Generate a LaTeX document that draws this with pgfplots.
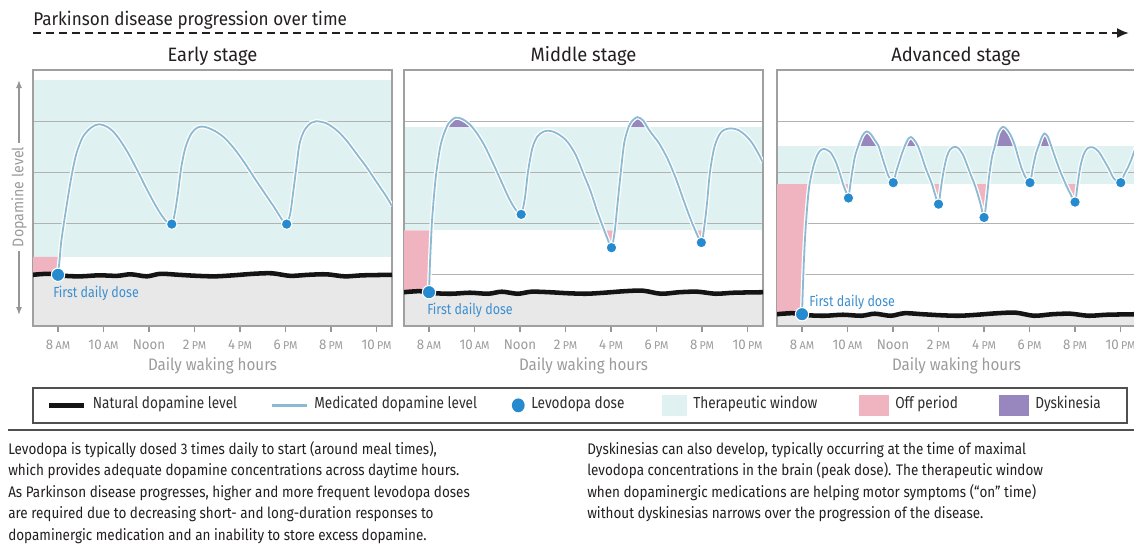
\documentclass[border=0pt]{standalone}
\usepackage{fontspec}
\setmainfont{Fira Sans}[FakeStretch=0.85]
\newfontfamily\fA{Fira Sans}[FakeStretch=0.93]
\newfontfamily\fB{Fira Sans}[FakeStretch=0.95]
\newfontfamily\fC{Fira Sans}[FakeStretch=0.91]
\newfontfamily\fD{Fira Sans}[FakeStretch=0.92]
\newfontfamily\fE{Fira Sans}[FakeStretch=0.88]
\usepackage{pgfplots}
\usepackage{pgfplotstable}
\pgfplotsset{compat=1.18}
\usetikzlibrary{arrows.meta}

\definecolor{wincol}{RGB}{224,241,242}
\definecolor{offcol}{RGB}{240,180,193}
\definecolor{dyscol}{RGB}{152,134,190}
\definecolor{medcol}{RGB}{140,186,210}
\definecolor{dosecol}{RGB}{38,139,206}
\definecolor{dosetext}{RGB}{60,143,207}
\definecolor{natgray}{RGB}{232,232,232}
\definecolor{boxgray}{RGB}{160,160,160}
\definecolor{gridgray}{RGB}{178,178,178}
\definecolor{tickgray}{RGB}{150,150,150}
\definecolor{ticktext}{RGB}{155,155,155}
\definecolor{darktext}{RGB}{35,31,32}
\definecolor{legborder}{RGB}{80,80,80}
\definecolor{legtext}{RGB}{45,45,45}

\newcommand{\fs}[1]{\fontsize{#1}{#1}\selectfont}
\newcommand{\tk}[2]{#1\,{\fs{8.5}#2}}

% ---------- data ----------
\pgfplotstableread{
x y
6.9 1.0
7.6 1.02
8.3 0.98
9.0 0.97
9.8 0.99
10.6 0.98
11.2 1.01
11.9 0.97
12.5 1.02
13.3 1.0
14.1 0.98
14.9 0.97
15.7 0.99
16.6 1.02
17.4 1.03
18.2 0.98
19.0 1.0
19.8 1.01
20.6 0.97
21.4 0.99
22.68 1.0
}\natA
\pgfplotstableread{
x y
8 1.0
8.07 1.3
8.15 1.68
8.37 2.33
8.59 2.92
8.81 3.37
9.10 3.70
9.47 3.88
9.80 3.94
10.20 3.88
10.56 3.73
11.0 3.44
11.44 3.08
11.88 2.69
12.32 2.33
12.69 2.08
13.0 1.99
13.13 2.20
13.27 2.59
13.42 3.11
13.61 3.50
13.86 3.76
14.15 3.88
14.45 3.89
14.89 3.81
15.33 3.67
15.77 3.45
16.21 3.18
16.65 2.88
17.09 2.59
17.53 2.30
17.86 2.07
18.05 1.99
18.21 2.20
18.33 2.59
18.48 3.11
18.62 3.57
18.84 3.83
19.13 3.97
19.35 4.0
19.79 3.96
20.23 3.83
20.67 3.63
21.11 3.37
21.55 3.11
21.99 2.82
22.43 2.53
22.68 2.34
}\medA
\pgfplotstableread{
x y
6.9 0.66
7.6 0.68
8.3 0.64
9.0 0.63
9.8 0.65
10.6 0.63
11.2 0.67
11.9 0.63
12.5 0.67
13.3 0.66
14.1 0.64
14.9 0.63
15.7 0.65
16.6 0.68
17.4 0.69
18.2 0.63
19.0 0.66
19.8 0.67
20.6 0.63
21.4 0.65
22.68 0.66
}\natB
\pgfplotstableread{
x y
8 0.66
8.04 1.2
8.1 1.8
8.15 2.17
8.29 2.88
8.48 3.47
8.66 3.76
8.88 3.97
9.17 4.07
9.47 4.04
9.76 3.95
10.05 3.80
10.42 3.54
10.78 3.21
11.15 2.85
11.52 2.49
11.81 2.27
12.05 2.18
12.21 2.49
12.35 3.01
12.54 3.47
12.76 3.70
13.05 3.80
13.35 3.81
13.71 3.74
14.08 3.60
14.45 3.34
14.81 2.95
15.11 2.62
15.40 2.23
15.69 1.88
15.84 1.71
16.02 1.53
16.16 1.84
16.28 2.36
16.43 3.01
16.57 3.55
16.72 3.82
16.88 3.98
17.16 4.08
17.42 4.01
17.6 3.88
17.8 3.75
18.11 3.57
18.48 3.27
18.85 2.88
19.21 2.43
19.51 2.07
19.73 1.84
19.97 1.63
20.09 1.91
20.21 2.36
20.35 3.01
20.53 3.47
20.75 3.73
20.97 3.83
21.26 3.86
21.58 3.83
21.92 3.72
22.21 3.57
22.51 3.34
22.68 3.19
}\medB
\pgfplotstableread{
x y
6.9 0.23
7.6 0.25
8.3 0.21
9.0 0.20
9.8 0.22
10.6 0.20
11.2 0.24
11.9 0.20
12.5 0.25
13.3 0.23
14.1 0.21
14.9 0.20
15.7 0.22
16.6 0.25
17.4 0.26
18.2 0.20
19.0 0.23
19.8 0.24
20.6 0.20
21.4 0.22
22.68 0.23
}\natC
\pgfplotstableread{
x y
8 0.23
8.06 1.03
8.12 1.62
8.18 2.05
8.25 2.45
8.33 2.77
8.5 3.12
8.65 3.32
8.79 3.42
8.97 3.46
9.23 3.40
9.45 3.24
9.64 3.01
9.82 2.75
9.96 2.59
10.04 2.50
10.11 2.72
10.22 3.05
10.33 3.32
10.5 3.55
10.67 3.73
10.84 3.80
11.02 3.75
11.2 3.63
11.36 3.52
11.5 3.33
11.65 3.12
11.8 2.93
12.01 2.80
12.13 3.0
12.27 3.2
12.4 3.38
12.53 3.53
12.66 3.65
12.79 3.69
12.92 3.64
13.09 3.52
13.25 3.33
13.42 3.10
13.58 2.92
13.72 2.76
13.86 2.55
14.0 2.38
14.1 2.68
14.22 3.02
14.36 3.30
14.51 3.45
14.72 3.50
14.9 3.46
15.09 3.33
15.25 3.15
15.42 2.95
15.58 2.77
15.72 2.58
15.86 2.36
16.0 2.12
16.12 2.49
16.23 2.95
16.35 3.3
16.48 3.52
16.63 3.78
16.82 3.89
17.0 3.84
17.18 3.72
17.36 3.52
17.5 3.3
17.66 3.07
17.83 2.9
18.02 2.80
18.15 3.1
18.29 3.38
18.42 3.54
18.52 3.67
18.65 3.76
18.8 3.70
18.95 3.52
19.12 3.3
19.34 3.03
19.6 2.76
19.81 2.57
20.0 2.42
20.1 2.72
20.22 3.08
20.37 3.34
20.54 3.47
20.78 3.49
21.03 3.41
21.27 3.24
21.51 3.05
21.71 2.88
22.01 2.80
22.15 2.95
22.34 3.11
22.49 3.27
22.59 3.40
22.68 3.50
}\medC

\pgfplotsset{
  panel/.style={
    set layers, scale only axis, width=269.25pt, height=192pt,
    anchor=south west,
    xmin=6.9, xmax=22.68, ymin=0, ymax=5,
    axis line style={draw=boxgray, line width=1.5pt},
    xtick={8,10,12,14,16,18,20,22},
    xticklabels={{\tk{8}{AM}},{\tk{10}{AM}},{Noon},{\tk{2}{PM}},{\tk{4}{PM}},{\tk{6}{PM}},{\tk{8}{PM}},{\tk{10}{PM}}},
    xtick pos=bottom, tick align=outside, major tick length=4.5pt,
    xtick style={draw=tickgray, line width=0.9pt},
    xticklabel style={font=\fB\fs{10.5}, text=ticktext, anchor=base, yshift=-13.3pt},
    ytick={1,2,3,4}, yticklabels={}, ytick style={draw=none},
    ymajorgrids, grid style={draw=gridgray, line width=0.7pt},
    xlabel={Daily waking hours},
    xlabel style={font=\fC\fs{12.5}, text=ticktext, at={(axis description cs:0.5,0)}, anchor=center, yshift=-29.8pt},
    clip=true,
  },
  bg/.style={draw=none, on layer=axis background},
  band/.style={draw=none, on layer=pre main},
  medline/.style={smooth, medcol, line width=1.35pt, preaction={draw=white, line width=3.2pt}},
  natline/.style={smooth, black!92, line width=3.4pt},
  dose/.style={only marks, mark=*, mark size=4pt, mark options={fill=dosecol, draw=white, line width=0.8pt}},
}

\begin{document}
\begin{tikzpicture}

% ---------- Early stage ----------
\begin{axis}[panel, at={(24.75pt,163.5pt)}]
\addplot[bg, fill=wincol] coordinates {(6.9,1.35) (22.68,1.35) (22.68,4.8) (6.9,4.8)};
\addplot[bg, fill=natgray] coordinates {(6.9,0) (22.68,0) (22.68,1.0) (6.9,1.0)};
\addplot[band, fill=offcol] coordinates {(6.9,0.99) (8,0.99) (8,1.0) (8.07,1.3) (8.081,1.35) (6.9,1.35)};
\addplot[natline] table {\natA};
\addplot[medline] table {\medA};
\addplot[dose] coordinates {(13,1.99) (18.05,1.99)};
\addplot[dose, mark size=5pt] coordinates {(8,1.0)};
\node[anchor=west, inner sep=0, font=\fs{11}, text=dosetext] at (axis cs:7.78,0.645) {First daily dose};
\end{axis}

% ---------- Middle stage ----------
\begin{axis}[panel, at={(303pt,163.5pt)}]
\addplot[bg, fill=wincol] coordinates {(6.9,1.87) (22.68,1.87) (22.68,3.89) (6.9,3.89)};
\addplot[bg, fill=natgray] coordinates {(6.9,0) (22.68,0) (22.68,0.66) (6.9,0.66)};
\addplot[band, fill=offcol] coordinates {(6.9,0.65) (8,0.65) (8,0.66) (8.04,1.2) (8.1,1.8) (8.109,1.87) (6.9,1.87)};
\addplot[band, fill=offcol] coordinates {(15.699,1.87) (15.84,1.71) (16.02,1.53) (16.16,1.84) (16.167,1.87)};
\addplot[band, fill=offcol] coordinates {(19.701,1.87) (19.73,1.84) (19.97,1.63) (20.073,1.87)};
\addplot[band, fill=dyscol] coordinates {(8.796,3.89) (8.88,3.97) (9.17,4.07) (9.47,4.04) (9.76,3.95) (9.876,3.89)};
\addplot[band, fill=dyscol] coordinates {(16.79,3.89) (16.88,3.98) (17.16,4.08) (17.42,4.01) (17.586,3.89)};
\addplot[natline] table {\natB};
\addplot[medline] table {\medB};
\addplot[dose] coordinates {(12.05,2.18) (16.02,1.53) (19.97,1.63)};
\addplot[dose, mark size=5pt] coordinates {(8,0.66)};
\node[anchor=west, inner sep=0, font=\fs{11}, text=dosetext] at (axis cs:7.91,0.31) {First daily dose};
\end{axis}

% ---------- Advanced stage ----------
\begin{axis}[panel, at={(582.75pt,163.5pt)}]
\addplot[bg, fill=wincol] coordinates {(6.9,2.77) (22.68,2.77) (22.68,3.52) (6.9,3.52)};
\addplot[bg, fill=natgray] coordinates {(6.9,0) (22.68,0) (22.68,0.23) (6.9,0.23)};
\addplot[band, fill=offcol] coordinates {(6.9,0.22) (8,0.22) (8,0.23) (8.06,1.03) (8.12,1.62) (8.18,2.05) (8.25,2.45) (8.33,2.77) (6.9,2.77)};
\addplot[band, fill=offcol] coordinates {(9.806,2.77) (9.82,2.75) (9.96,2.59) (10.04,2.50) (10.11,2.72) (10.127,2.77)};
\addplot[band, fill=offcol] coordinates {(13.711,2.77) (13.72,2.76) (13.86,2.55) (14.0,2.38) (14.1,2.68) (14.132,2.77)};
\addplot[band, fill=offcol] coordinates {(15.58,2.77) (15.72,2.58) (15.86,2.36) (16.0,2.12) (16.12,2.49) (16.187,2.77)};
\addplot[band, fill=offcol] coordinates {(19.59,2.77) (19.6,2.76) (19.81,2.57) (20.0,2.42) (20.1,2.72) (20.117,2.77)};
\addplot[band, fill=dyscol] coordinates {(10.478,3.52) (10.5,3.55) (10.67,3.73) (10.84,3.80) (11.02,3.75) (11.2,3.63) (11.36,3.52)};
\addplot[band, fill=dyscol] coordinates {(12.521,3.52) (12.53,3.53) (12.66,3.65) (12.79,3.69) (12.92,3.64) (13.09,3.52)};
\addplot[band, fill=dyscol] coordinates {(16.48,3.52) (16.63,3.78) (16.82,3.89) (17.0,3.84) (17.18,3.72) (17.36,3.52)};
\addplot[band, fill=dyscol] coordinates {(18.404,3.52) (18.42,3.54) (18.52,3.67) (18.65,3.76) (18.8,3.70) (18.95,3.52)};
\addplot[natline] table {\natC};
\addplot[medline] table {\medC};
\addplot[dose] coordinates {(10.04,2.50) (12.01,2.80) (14.0,2.38) (16.0,2.12) (18.02,2.80) (20.0,2.42) (22.01,2.80)};
\addplot[dose, mark size=5pt] coordinates {(8,0.23)};
\node[anchor=west, inner sep=0, font=\fs{11}, text=dosetext] at (axis cs:8.31,0.47) {First daily dose};
\end{axis}

% ---------- legend ----------
\begin{axis}[hide axis, scale only axis, width=10pt, height=10pt, at={(24pt,117.75pt)}, anchor=north west,
  xmin=0, xmax=1, ymin=0, ymax=1,
  legend columns=6,
  legend style={at={(0,1)}, anchor=north west, draw=legborder, line width=1.2pt,
    inner xsep=10.5pt, inner ysep=5.25pt, column sep=0pt, row sep=0pt,
    nodes={inner sep=0pt, anchor=mid, font=\fs{12}, text=legtext}}]
\addplot[draw=none, forget plot] coordinates {(0,0) (1,1)};
\addlegendimage{legend image code/.code={\path[draw=none] (0pt,-7.9pt) rectangle (26.25pt,7.9pt); \draw[black!92, line width=3.8pt] (0pt,0pt) -- (26.25pt,0pt);}}
\addlegendentry{\makebox[138pt][l]{\hspace{4.5pt}Natural dopamine level}}
\addlegendimage{legend image code/.code={\path[draw=none] (0pt,-7.9pt) rectangle (26.25pt,7.9pt); \draw[medcol, line width=1.8pt] (0pt,0pt) -- (26.25pt,0pt);}}
\addlegendentry{\makebox[136.5pt][l]{\hspace{4.5pt}Medicated dopamine level}}
\addlegendimage{legend image code/.code={\path[draw=none] (0pt,-7.9pt) rectangle (26.25pt,7.9pt); \fill[dosecol, draw=none] (21pt,0pt) ellipse[x radius=4.8pt, y radius=5.2pt];}}
\addlegendentry{\makebox[95.25pt][l]{\hspace{4.5pt}Levodopa dose}}
\addlegendimage{legend image code/.code={\path[draw=none] (0pt,-7.9pt) rectangle (26.25pt,7.9pt); \fill[wincol, draw=none] (7.5pt,-7.9pt) rectangle (26.25pt,7.9pt);}}
\addlegendentry{\makebox[125.25pt][l]{\hspace{4.5pt}Therapeutic window}}
\addlegendimage{legend image code/.code={\path[draw=none] (0pt,-7.9pt) rectangle (26.25pt,7.9pt); \fill[offcol, draw=none] (3.75pt,-7.9pt) rectangle (26.25pt,7.9pt);}}
\addlegendentry{\makebox[78.75pt][l]{\hspace{4.5pt}Off period}}
\addlegendimage{legend image code/.code={\path[draw=none] (0pt,-7.9pt) rectangle (26.25pt,7.9pt); \fill[dyscol, draw=none] (3.75pt,-7.9pt) rectangle (26.25pt,7.9pt);}}
\addlegendentry{\makebox[63pt][l]{\hspace{4.5pt}Dyskinesia}}
\end{axis}

\begin{scope}[shift={(0pt,408pt)}, x=0.75pt, y=-0.75pt]
% title and progression arrow
\node[anchor=base west, inner sep=0, font=\fA\fs{13.8}, text=darktext] at (33,26) {Parkinson disease progression over time};
\draw[darktext, line width=1.5pt, dash pattern=on 6pt off 3.75pt, -{Latex[length=9pt,width=7.5pt]}] (33,33) -- (1129,33);
% stage titles
\node[anchor=base, inner sep=0, font=\fB\fs{14.5}, text=darktext] at (212.5,62) {Early stage};
\node[anchor=base, inner sep=0, font=\fB\fs{14.5}, text=darktext] at (583.5,62) {Middle stage};
\node[anchor=base, inner sep=0, font=\fB\fs{14.5}, text=darktext] at (956,62) {Advanced stage};
% dopamine level axis arrow
\draw[tickgray, line width=0.9pt, {Latex[length=6pt,width=4.5pt]}-{Latex[length=6pt,width=4.5pt]}] (19,80) -- (19,315);
\node[rotate=90, fill=white, inner xsep=3pt, inner ysep=1pt, font=\fD\fs{11.6}, text=ticktext] at (19,197) {Dopamine level};
% rule under legend
\draw[legborder, line width=1.2pt] (8,430) -- (1134,430);
% text
\begin{scope}[every node/.style={anchor=base west, inner sep=0, font=\fE\fs{11.5}, text=darktext}]
\node at (8,454) {Levodopa is typically dosed 3 times daily to start (around meal times),};
\node at (8,475.6) {which provides adequate dopamine concentrations across daytime hours.};
\node at (8,497.2) {As Parkinson disease progresses, higher and more frequent levodopa doses};
\node at (8,518.8) {are required due to decreasing short- and long-duration responses to};
\node at (8,540.4) {dopaminergic medication and an inability to store excess dopamine.};
\node at (587,454) {Dyskinesias can also develop, typically occurring at the time of maximal};
\node at (587,475.6) {levodopa concentrations in the brain (peak dose). The therapeutic window};
\node at (587,497.2) {when dopaminergic medications are helping motor symptoms (“on” time)};
\node at (587,518.8) {without dyskinesias narrows over the progression of the disease.};
\end{scope}
\end{scope}

\pgfresetboundingbox
\path[use as bounding box] (0,0) rectangle (850.5pt,408pt);
\end{tikzpicture}
\end{document}
